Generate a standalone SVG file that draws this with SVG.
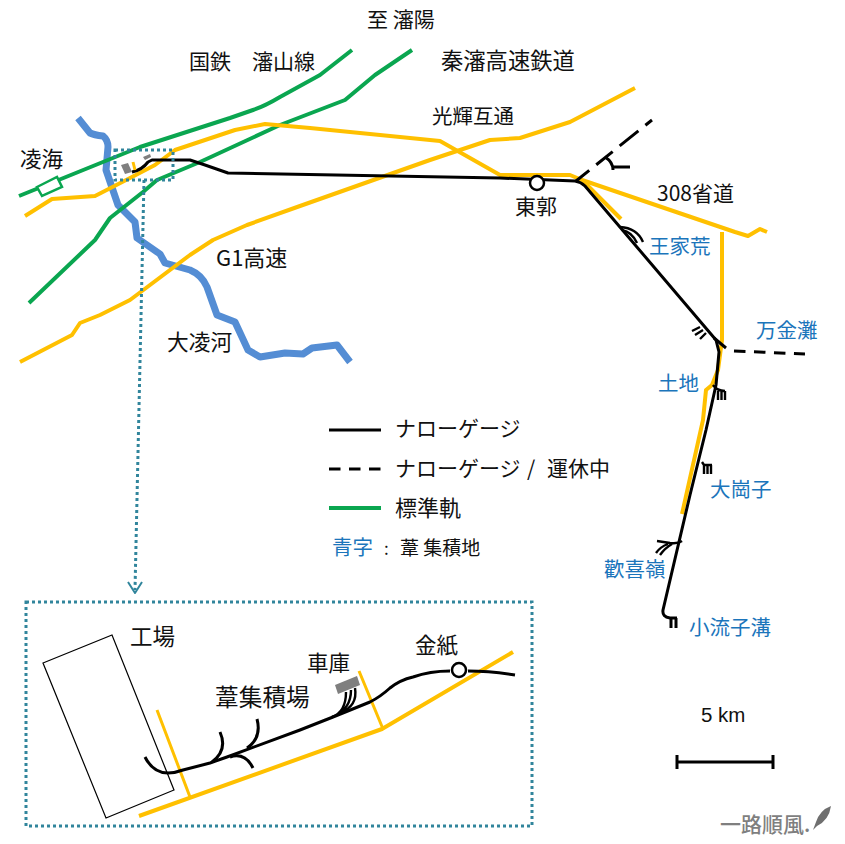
<svg xmlns="http://www.w3.org/2000/svg" width="845" height="844" viewBox="0 0 845 844">
<style>
text{font-family:"Noto Sans CJK JP","Noto Sans CJK TC",sans-serif;font-size:21px;fill:#111}
.b{fill:#1b75bb;font-size:20.5px}
.sm{font-size:20.5px;font-family:"Liberation Sans",sans-serif}
.line{fill:none;stroke-linejoin:round}
.rail{stroke:#000;stroke-width:3}
.thin{stroke:#000;stroke-width:2.4}
.dash{stroke:#000;stroke-width:3;stroke-dasharray:11.5 8.5}
.dash1{stroke:#000;stroke-width:3;stroke-dasharray:17 9 21 9 24 9 10}
.g{stroke:#0aa650;stroke-width:4}
.y{stroke:#ffc000;stroke-width:4}
.y3{stroke:#ffc000;stroke-width:3}
.river{stroke:#548dd4;stroke-width:7}
.dot{stroke:#31859c;stroke-width:3;stroke-dasharray:3 3;fill:none}
.depot{fill:#7f7f7f}
</style>
<rect width="845" height="844" fill="#fff"/>
<g id="river"><path class="line river" d="M78 118L90 133Q94 135 103 136Q108 140 108 147L106 170L118 205L135 222L137 238L160 254L165 263L190 270Q202 275 207 287L217 315L235 322L248 350L260 357L285 353L303 354L312 348L337 345L350 362"/></g>
<g id="connectors">
<path class="line g" d="M19 196L140 147L230 118L253 110Q265 106 280 97L320 75L352 50"/>
<path class="line g" d="M29 303L95 240L110 218L143 192L157 180L200 162L280 125L345 100L375 75L412 50"/>
<path class="line y" d="M25 216L52 199L95 196L130 178L155 165L175 150L235 130L265 124L310 128L440 141L500 175L570 175L582 180L735 232L748 236L760 229L767 232"/>
<path class="line y" d="M583 181L621 219"/>
<path class="line y" d="M722 232V340L718 370L712 385L706 390L703 420L682 514"/>
<path class="line y" d="M20 362L72 335L80 323L100 315L130 300L190 255L213 240L247 225L300 206L430 160L490 140L520 138L570 122L635 88"/>
<path class="line rail" d="M132 172Q142 170 148 162L152 160L190 160L205 165L228 173L500 178L575 181Q581 182 585 186L716 340L719 352L716 385L706 430L690 495L663 610Q662 617 670 618L677 618"/>
<path class="line dash1" d="M576 181L652 120"/>
<path class="line rail" d="M605 157Q613 162 613 170M613 167H630"/>
<path class="line thin" d="M620 227Q637 228 643 242M622 230Q632 232 637 243"/>
<path class="line thin" d="M700 327L692 331M703 330L695 335M706 333L700 339"/>
<path class="line rail" d="M714 338L726 348"/>
<path class="line dash" d="M734 351L805 354"/>
<path class="line thin" d="M713 385Q717 391 725 391M718 391V400M721.5 391V400M725 391V400"/>
<path class="line thin" d="M702 462L704 465H712M704 465V474M707.5 465V474M711 465V474"/>
<path class="line thin" d="M682 541Q678 544 670 543L657 541M668 544Q660 547 656 553M672 544Q665 548 660 555"/>
<path class="line rail" d="M671 618V628M676 618V628"/>
<line class="dot" x1="144" y1="180" x2="135" y2="590"/>
<path class="line" d="M128 582L135 593L142 582" stroke="#31859c" stroke-width="2"/>
<g id="inset-lines">
<path class="line y" d="M139 816L382 729L513 652"/>
<path class="line y3" d="M157 710L190 797M359 671L383 729"/>
<path class="line rail" d="M145 757Q153 773 168 773Q175 773 183 770L210 763L227 757L300 730L333 717L370 702Q380 697 390 688Q400 680 413 677Q430 671 450 671M468 671Q490 671 515 675"/>
<path class="line rail" d="M220 732Q228 750 212 762M257 719Q262 738 247 748M253 768Q245 752 230 757"/>
<path class="line thin" d="M332 717Q346 712 346 692M335 716Q351 708 351 690M340 713Q358 706 355 688"/>
</g>
</g>
<g id="node-linghai"><polygon points="37,187 57,177 62,187 42,196" fill="#fff" stroke="#0aa650" stroke-width="2.5"/><text x="20" y="167" style="font-size:21.5px">凌海</text></g>
<g id="node-zoom-area">
<rect class="dot" x="115" y="150" width="58" height="30"/>
<polygon class="depot" points="121,165 128,163 132,172 125,174"/>
<polygon class="depot" points="143,157 150,154 151,157 145,160"/>
<path class="line" d="M133 162L135 170" stroke="#ffc000" stroke-width="3"/>
</g>
<g id="node-dongguo"><circle cx="537" cy="183" r="7" fill="#fff" stroke="#000" stroke-width="2.5"/><text x="515" y="214">東郭</text></g>
<g id="label-north"><text x="367" y="27">至 瀋陽</text></g>
<g id="label-guotie"><text x="189" y="69">国鉄<tspan dx="21">瀋山線</tspan></text></g>
<g id="label-qinshen"><text x="441" y="69" style="font-size:22.3px">秦瀋高速鉄道</text></g>
<g id="label-guanghui"><text x="432" y="124" style="font-size:20.5px">光輝互通</text></g>
<g id="label-308"><text x="657" y="201">308省道</text></g>
<g id="label-g1"><text x="216" y="266" style="font-size:22px">G1高速</text></g>
<g id="label-daling"><text x="167" y="350" style="font-size:21.7px">大凌河</text></g>
<g id="node-wangjia"><text class="b" x="649" y="254">王家荒</text></g>
<g id="node-wanjin"><text class="b" x="756" y="338">万金灘</text></g>
<g id="node-tudi"><text class="b" x="658" y="391">土地</text></g>
<g id="node-dagang"><text class="b" x="710" y="497">大崗子</text></g>
<g id="node-huanxi"><text class="b" x="604" y="577">歡喜嶺</text></g>
<g id="node-xiaoliu"><text class="b" x="689" y="635">小流子溝</text></g>
<g id="legend">
<line class="line rail" x1="329" y1="430" x2="381" y2="430"/>
<text x="395" y="436">ナローゲージ</text>
<line class="line dash" x1="329" y1="469" x2="381" y2="469"/>
<text x="395" y="476">ナローゲージ<tspan x="527">/</tspan><tspan x="547">運休中</tspan></text>
<line class="line g" x1="329" y1="508" x2="381" y2="508"/>
<text x="395" y="516" style="font-size:22px">標準軌</text>
<text class="b" x="332" y="555">青字</text>
<text x="384" y="555" style="font-size:17px">:</text>
<text x="400" y="555" style="font-size:19px">葦 集積地</text>
</g>
<g id="inset">
<rect class="dot" x="26" y="602" width="506" height="224"/>
<polygon id="node-factory" points="43,663 112,635 174,790 106,818" fill="none" stroke="#000" stroke-width="1.2"/>
<text x="130" y="645" style="font-size:22.5px">工場</text>
<text x="215" y="706" style="font-size:23.7px">葦集積場</text>
<g id="node-depot"><polygon class="depot" points="335,685 357,676 360,685 338,694"/><text x="307" y="671" style="font-size:21.5px">車庫</text></g>
<g id="node-jinzhi"><circle cx="459" cy="670" r="7" fill="#fff" stroke="#000" stroke-width="2.5"/><text x="415" y="653" style="font-size:21.5px">金紙</text></g>
</g>
<g id="scale">
<text class="sm" x="701" y="722">5 km</text>
<path class="line rail" d="M677 762H773M677 755V769M773 755V769"/>
</g>
<g id="logo">
<text x="720" y="832" style="font-size:21px;font-weight:500;fill:#7f7f7f">一路順風.</text>
<path d="M831 806Q820 810 816 822L813 830L817 826Q829 820 831 806Z" fill="#6f6f6f"/>
</g>
</svg>
